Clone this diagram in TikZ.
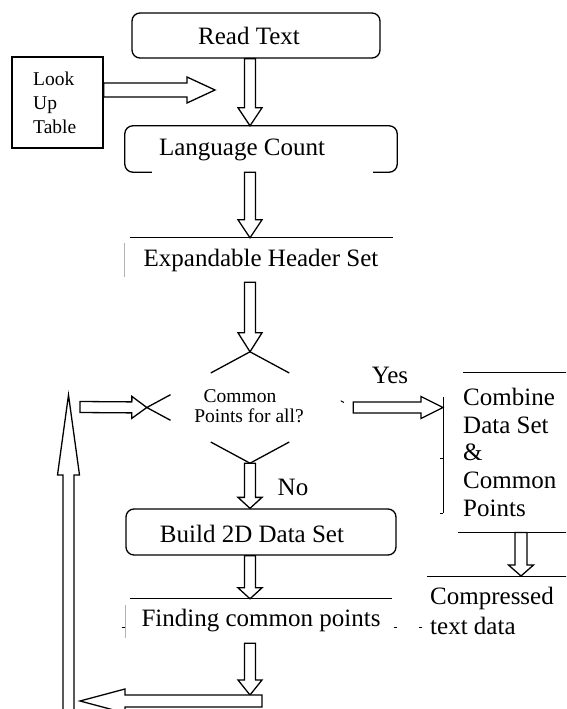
\documentclass[tikz,border=0pt]{standalone}
\usepackage{fontspec}
\setmainfont{Liberation Serif}
\usetikzlibrary{positioning, calc, shapes.geometric}

\tikzstyle{roundBox} = [
    rectangle,
    draw,
    rounded corners=8pt,
    line width=1.3pt,
    inner sep=0pt
    ]
\tikzstyle{plainBox} = [
    rectangle,
    draw,
    line width=1.3pt,
    inner sep=0pt
    ]
\tikzstyle{flatBox} = [
    rectangle,
    inner sep=0pt,
    font=\fontsize{25}{27.75}\selectfont
    ]
\tikzstyle{bigText} = [
    inner sep=0pt,
    font=\fontsize{25}{27.75}\selectfont
    ]
\tikzstyle{smallText} = [
    inner sep=0pt,
    font=\fontsize{19.5}{23.7}\selectfont
    ]
\tikzstyle{edgeLine} = [line width=1.3pt]
\tikzstyle{ruleLine} = [line width=1pt]
\tikzstyle{faintLine} = [line width=0.6pt, gray!60]
\tikzstyle{blockArrow} = [draw, fill=white, line width=1.3pt]

% hollow block arrow: start, tip, shaft half width, head half width, head length
\newcommand{\hollowArrow}[5]{%
  \coordinate (ha-a) at (#1);
  \coordinate (ha-b) at (#2);
  \coordinate (ha-c) at ($(ha-b)!#5!(ha-a)$);
  \path[blockArrow] ($(ha-a)!#3!90:(ha-b)$) -- ($(ha-c)!#3!90:(ha-b)$)
    -- ($(ha-c)!#4!90:(ha-b)$) -- (ha-b) -- ($(ha-c)!#4!-90:(ha-b)$)
    -- ($(ha-c)!#3!-90:(ha-b)$) -- ($(ha-a)!#3!-90:(ha-b)$) -- cycle;
}

\begin{document}
\begin{tikzpicture}[x=1pt, y=-1pt]
      \useasboundingbox (0,0) rectangle (566,709);
      \clip (0,0) rectangle (566,709);
      \coordinate (mid) at (250,0);
      \coordinate (rightCol) at (521,0);

      % main column
      \node[roundBox, minimum width=248pt, minimum height=45pt] at (256,35.5) (read) {};
      \node[bigText] at (249,36) (readText) {Read Text};

      \node[plainBox, minimum width=91pt, minimum height=91pt] at (57.5,102.5) (lookup) {};
      \node[smallText, align=left, anchor=west] at (33,103) (lookupText) {Look\\Up\\Table};
      \coordinate (lookupTip) at (215,90);
      \hollowArrow{lookup.east |- lookupTip}{lookupTip}{7pt}{13pt}{28pt}

      \node[rectangle, minimum width=272pt, minimum height=46pt] at (261,149) (lang) {};
      \draw[edgeLine, rounded corners=8pt] ($(lang.south west)+(27,0)$) -- (lang.south west)
        -- (lang.north west) -- (lang.north east) -- (lang.south east) -- ($(lang.south east)+(-24,0)$);
      \node[bigText] at (242,150) (langText) {Language Count};
      \hollowArrow{read.south -| mid}{lang.north -| mid}{5.5pt}{12pt}{18pt}

      \node[flatBox, minimum width=269pt, minimum height=44pt] at (261,260) (header) {Expandable Header Set};
      \draw[ruleLine] ($(header.north west)+(3.5,0)$) -- ($(header.north east)+(-2.5,0)$);
      \draw[faintLine] ($(header.north west)+(-2.5,5)$) -- ($(header.south west)+(-2.5,-5)$);
      \hollowArrow{lang.south -| mid}{header.north -| mid}{5.5pt}{12pt}{18pt}

      % decision
      \node[diamond, minimum width=206pt, minimum height=111pt, inner sep=0pt] at (250,407.5) (common) {};
      \draw[edgeLine] ($(common.north)!0.38!(common.west)$) -- (common.north) -- ($(common.north)!0.38!(common.east)$);
      \draw[edgeLine] ($(common.west)!0.23!(common.north)$) -- (common.west) -- ($(common.west)!0.23!(common.south)$);
      \draw[edgeLine] ($(common.south)!0.38!(common.west)$) -- (common.south) -- ($(common.south)!0.38!(common.east)$);
      \draw[ruleLine] ($(common.east)!0.09!(common.north)$) -- ($(common.east)!0.12!(common.north)$);
      \node[smallText] at (240,396) (commonText) {Common};
      \node[smallText] at (249,416) (pointsText) {Points for all?};
      \hollowArrow{header.south -| mid}{common.north}{5.5pt}{12pt}{19pt}

      % yes branch
      \node[bigText, align=left, anchor=north west, inner xsep=20pt, minimum width=117pt, minimum height=160pt] at (443,372) (combine) {Combine\\Data Set\\\&\\Common\\Points};
      \draw[ruleLine] ($(combine.north west)+(20,0)$) -- ($(combine.north east)+(-2,0)$);
      \draw[ruleLine] ($(combine.north west)+(0,25)$) -- ($(combine.south west)+(0,-19)$);
      \draw[ruleLine] ($(combine.west)+(-3,6)$) -- ($(combine.west)+(0,6)$);
      \draw[ruleLine] ($(combine.south west)+(-3,-19)$) -- ($(combine.south west)+(0,-19)$);
      \draw[ruleLine] ($(combine.south west)+(15,0)$) -- (combine.south east);
      \hollowArrow{common.east}{combine.west |- common.east}{5.5pt}{11pt}{22pt}
      \node[bigText] at (390,375) (yesText) {Yes};

      \node[bigText, align=left, anchor=north west, inner xsep=3pt, inner ysep=11pt, font=\fontsize{25}{30}\selectfont] at (427,576) (compressed) {Compressed\\text data};
      \draw[ruleLine] (compressed.north west) -- ($(compressed.north east)+(12,0)$);
      \hollowArrow{combine.south -| rightCol}{compressed.north -| rightCol}{6pt}{12.5pt}{11pt}

      % no branch
      \node[roundBox, minimum width=270pt, minimum height=46pt] at (261,532) (build) {};
      \node[bigText] at (252,534) (buildText) {Build 2D Data Set};
      \hollowArrow{common.south}{build.north -| mid}{5.5pt}{12pt}{11pt}
      \node[bigText] at (293,487) (noText) {No};

      \node[flatBox, minimum width=262pt, minimum height=44pt] at (261,621) (finding) {Finding common points};
      \draw[ruleLine] (finding.north west) -- (finding.north east);
      \draw[faintLine] ($(finding.north west)+(-5,6)$) -- ($(finding.south west)+(-5,-5)$);
      \draw[ruleLine] ($(finding.west)+(-8,6)$) -- ($(finding.west)+(-5,6)$);
      \draw[ruleLine] ($(finding.east)+(2,6)$) -- ($(finding.east)+(5,6)$);
      \draw[ruleLine] ($(finding.east)+(27,6)$) -- ($(finding.east)+(30,6)$);
      \hollowArrow{build.south -| mid}{finding.north -| mid}{5.5pt}{12pt}{11pt}

      % loop back to the decision
      \coordinate (loopTurn) at (250,695);
      \coordinate (loopStart) at (262,701);
      \coordinate (loopEnd) at (80,701);
      \coordinate (loopFoot) at (68.5,730);
      \coordinate (loopTop) at (68.5,395);
      \coordinate (loopIn) at (80,407);
      \hollowArrow{finding.south -| mid}{loopTurn}{5.5pt}{12pt}{15pt}
      \hollowArrow{loopStart}{loopEnd}{6pt}{12pt}{45pt}
      \hollowArrow{loopFoot}{loopTop}{5.5pt}{11pt}{80pt}
      \hollowArrow{loopIn}{common.west}{5.5pt}{11pt}{15pt}
\end{tikzpicture}
\end{document}
